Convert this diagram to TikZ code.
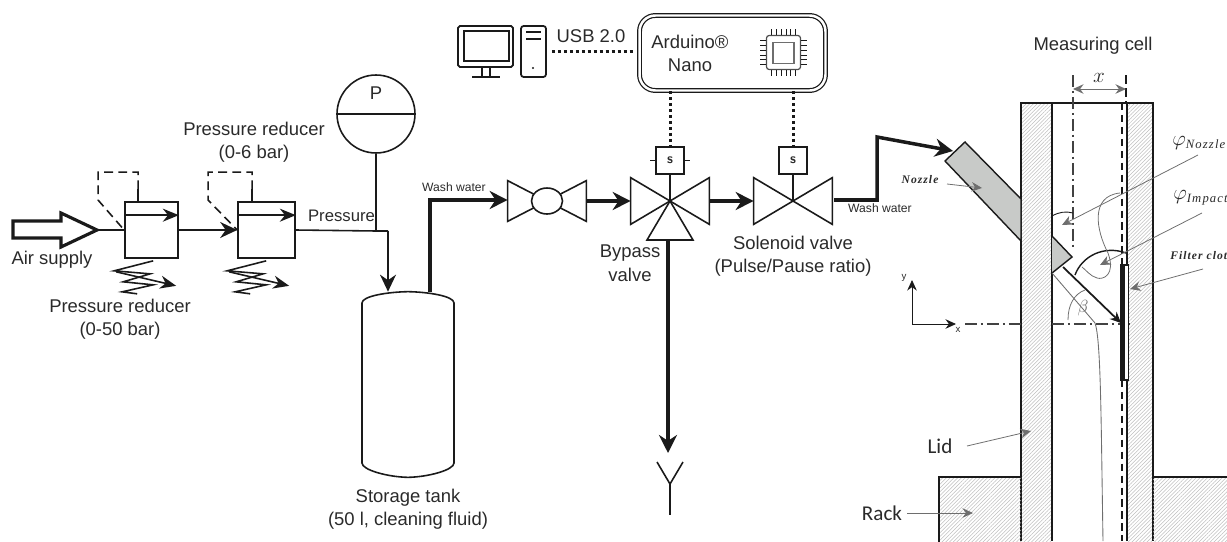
\documentclass[tikz,border=0pt]{standalone}
\usepackage{fontspec}
\setmainfont{Liberation Sans}
\newfontfamily\cellfont[LetterSpace=9]{Liberation Serif}
\newfontfamily\partfont{Carlito}
\usetikzlibrary{positioning, arrows.meta, calc, patterns.meta, shapes.geometric}
\definecolor{mInk}{HTML}{1A1A1A}
\definecolor{mText}{HTML}{2A2A2A}
\definecolor{mLead}{HTML}{6E6E6E}
\definecolor{mHatch}{HTML}{BEBEBE}
\definecolor{mNozzle}{HTML}{C8CAC8}

\begin{document}
\begin{tikzpicture}[x=0.02cm, y=-0.02cm,
  every node/.style={font=\fontsize{10.5}{12.9}\selectfont, text=mText, align=center, inner sep=0pt},
  small/.style={font=\fontsize{6.9}{8}\selectfont},
  part/.style={font=\partfont\fontsize{12}{14}\selectfont},
  cell/.style={font=\cellfont\bfseries\itshape\fontsize{6.6}{8}\selectfont},
  pipe/.style={draw=mInk, line width=0.9pt},
  water/.style={draw=mInk, line width=2pt},
  flow/.style={water, -{Stealth[length=3.6mm, width=3.6mm]}},
  air/.style={pipe, -{Stealth[length=3.4mm, width=3.2mm]}},
  signal/.style={draw=mInk, line width=1.7pt, dash pattern=on 1.7pt off 1.7pt},
  sol/.style={draw=mInk, line width=0.9pt, fill=white, minimum width=0.56cm, minimum height=0.54cm,
              font=\sffamily\bfseries\fontsize{8}{9}\selectfont},
  valve/.style={minimum width=1.56cm, minimum height=0.92cm},
  reducer/.style={draw=mInk, line width=0.95pt, minimum height=1.12cm},
  lead/.style={draw=mLead, line width=0.45pt, -{Stealth[length=2.1mm, width=1.9mm]}},
  wall/.style={draw=mInk, line width=1pt, pattern={Lines[angle=45, distance=1.5pt, line width=0.3pt]}, pattern color=mHatch},
]
  \useasboundingbox (0,0) rectangle (1227,541);
  \clip (0,0) rectangle (1227,541);

  % Air supply
  \coordinate (airtip) at (97,230);
  \draw[mInk, line width=1.8pt, miter limit=4] (13,221) -- (61,221) -- (61,213) -- (airtip) -- (61,247) -- (61,238) -- (13,238) -- cycle;
  \node (airlabel) at (52,260) {Air supply};

  % Pressure reducers
  \node[reducer, minimum width=1.06cm] (red1) at (151.5,230) {};
  \node[reducer, minimum width=1.14cm] (red2) at (266.5,230) {};
  \foreach \r/\t/\l in {red1/14/-26, red2/15/-29} {
    \draw[air, -{Stealth[length=3.2mm, width=2.6mm]}] ($(\r.north west)+(0,14)$) -- ($(\r.north east)+(0,14)$);
    \draw[pipe] ($(\r.north west)+(\t,0)$) -- ($(\r.north west)+(\t,-12)$);
    \draw[pipe, dash pattern=on 5pt off 3pt] ($(\r.north west)+(\t,-12)$) -- ($(\r.north west)+(\t,-29)$)
      -- ($(\r.north west)+(\l,-29)$) -- ($(\r.north west)+(\l,-1)$) -- (\r.west);
    \begin{scope}[shift={(\r.south west)}]
      \draw[pipe] (29,2) -- (-10,12) -- (26,15) -- (-1,23) -- (29,26) -- (-2,33) -- (13,35);
      \draw[pipe, -{Stealth[length=3.2mm, width=2.6mm]}] (-8,13) -- (52,27);
    \end{scope}
  }
  \draw[pipe] (airtip) -- (red1.west);
  \draw[air] (red1.east) -- (red2.west);
  \node (redlabel1) at (120,319.5) {Pressure reducer\\(0-50 bar)};
  \node (redlabel2) at (254,142.5) {Pressure reducer\\(0-6 bar)};

  % Pressure gauge
  \node[draw=mInk, line width=0.9pt, circle, minimum size=1.56cm] (gauge) at (376,114) {};
  \draw[pipe] (gauge.west) -- (gauge.east);
  \node (gaugeP) at (376,93) {P};
  \coordinate (jct) at (376,231);
  \coordinate (drop) at (388,231);
  \node[font=\fontsize{9.5}{11}\selectfont] (presslabel) at (341.5,216) {Pressure};

  % Storage tank
  \node[minimum width=1.84cm, minimum height=3.7cm] (tank) at (408,384.5) {};
  \draw[pipe] (362,303) .. controls (362,296) and (388,292) .. (tank.north) .. controls (428,292) and (454,296) .. (454,303)
    -- (454,463) .. controls (454,470) and (428,477) .. (tank.south) .. controls (388,477) and (362,470) .. (362,463) -- cycle;
  \node (tanklabel) at (408,509.5) {Storage tank\\(50 l, cleaning fluid)};
  \draw[pipe] (red2.east) -- (jct) -- (drop);
  \draw[pipe] (gauge.south) -- (jct);
  \draw[air] (drop) -- (drop |- tank.north);

  % Computer and controller
  \node[draw=mInk, line width=1pt, rounded corners=1pt, minimum width=1.1cm, minimum height=0.82cm] (monitor) at (485.5,46.5) {};
  \node[draw=mInk, line width=0.8pt, minimum width=0.9cm, minimum height=0.6cm] (screen) at (486.5,46) {};
  \draw[mInk, line width=0.9pt] (482,67) -- (482,77) (490,67) -- (490,77) (472,77) -- (500,77);
  \node[draw=mInk, line width=1pt, rounded corners=1.5pt, minimum width=0.5cm, minimum height=1.02cm] (tower) at (533.5,51.5) {};
  \draw[mInk, line width=0.9pt] (526,32) -- (541,32) (526,39) -- (541,39);
  \fill[mInk] (533,68) circle (0.7pt);
  \node[draw=mInk, line width=0.7pt, double, double distance=1.4pt, rounded corners=9pt, minimum width=3.72cm, minimum height=1.5cm] (arduino) at (732.5,53) {};
  \node (ardlabel) at (690,53.5) {Arduino\textregistered\\[0.6pt]Nano};
  \node (usblabel) at (591,36) {USB 2.0};
  \draw[signal, shorten <=0.1cm, shorten >=0.1cm] (tower.east) -- (tower.east -| arduino.west);

  % Chip icon
  \node[draw=mLead!70!black, line width=0.7pt, rounded corners=1.5pt, minimum size=0.68cm] (chip) at (783.5,52.5) {};
  \node[draw=mLead, line width=0.8pt, minimum size=0.42cm] (core) at (783.5,53) {};
  \foreach \p in {-12,-7.2,-2.4,2.4,7.2,12} {
    \draw[mInk, line width=0.35pt] ($(chip.north)+(\p,0)$) -- ++(0,-6);
    \draw[mInk, line width=0.35pt] ($(chip.south)+(\p,0)$) -- ++(0,6);
    \draw[mInk, line width=0.35pt] ($(chip.west)+(0,\p)$) -- ++(-6,0);
    \draw[mInk, line width=0.35pt] ($(chip.east)+(0,\p)$) -- ++(6,0);
  }

  % Valves
  \node[valve, minimum height=0.8cm] (bowl) at (547,201) {};
  \node[valve] (bypass) at (670,201) {};
  \node[valve] (solvalve) at (793,201) {};
  \foreach \v in {bowl,bypass,solvalve} {
    \draw[pipe] (\v.north west) -- (\v.south east) -- (\v.north east) -- (\v.south west) -- cycle;
  }
  \node[draw=mInk, line width=0.9pt, fill=white, ellipse, minimum width=0.62cm, minimum height=0.52cm] (ball) at (bowl) {};
  \draw[pipe] (bypass.center) -- (647,240) -- (693,240) -- cycle;
  \node[sol] (sol1) at (670,160.5) {s};
  \node[sol] (sol2) at (793,160.5) {s};
  \draw[pipe] (sol1.south) -- (bypass.center);
  \draw[pipe] (sol2.south) -- (solvalve.center);
  \draw[pipe] (sol1.west) -- ++(-5,0);
  \draw[pipe] (sol1.east) -- ++(5,0);
  \draw[signal] (arduino.south -| sol1.north) -- (sol1.north);
  \draw[signal] (arduino.south -| sol2.north) -- (sol2.north);
  \node (bypasslabel) at (630,263) {Bypass\\[1pt]valve};
  \node (sollabel) at (793,256) {Solenoid valve\\(Pulse/Pause ratio)};

  % Water lines
  \coordinate (bendA) at (430,200);
  \coordinate (bendB) at (877,200);
  \coordinate (bendC) at (877,137);
  \coordinate (nozzleIn) at (953,151);
  \draw[flow] (430,292) -- (bendA) -- (bowl.west |- bendA);
  \draw[flow] (bowl.east) -- (bypass.west);
  \draw[flow] (bypass.east) -- (solvalve.west);
  \draw[flow] (834,200) -- (bendB) -- (bendC) -- (nozzleIn);
  \node[small] (washlabel1) at (454,187) {Wash water};
  \node[small] (washlabel2) at (880,208.5) {Wash water};

  % Drain
  \coordinate (drainhead) at (668,453);
  \coordinate (funnel) at (670,484);
  \draw[flow] (668,240) -- (drainhead);
  \draw[pipe] (657,462) -- (funnel) -- (683,462);
  \draw[pipe] (funnel) -- (670,515);

  % Measuring cell
  \node (celllabel) at (1093,46) {Measuring cell};
  \draw[wall] (1021,541) -- (1021,103) -- (1052,103) -- (1052,541);
  \draw[wall] (1127,541) -- (1127,103) -- (1153,103) -- (1153,541);
  \draw[mInk, line width=1.1pt] (1052,103) -- (1127,103);
  \draw[wall] (1021,477) -- (939,477) -- (939,545) -- (1021,545);
  \draw[wall] (1153,477) -- (1230,477) -- (1230,545) -- (1153,545);

  % Nozzle
  \draw[mInk, line width=0.8pt, fill=mNozzle] (965,142) -- (945,161) -- (1021,241) -- (1021,199) -- cycle;
  \draw[mInk, line width=0.8pt, fill=mNozzle] (1052,236) -- (1072,257) -- (1052,273);
  \draw[mInk, line width=1pt, -{Stealth[length=2.2mm, width=2mm]}] (1063,267) -- (1121,323);
  \draw[mLead, line width=0.5pt] (1052,273) -- (1095,323) .. controls (1101,340) and (1101,420) .. (1103,541);

  % Centre lines
  \draw[mLead!60!black, line width=0.6pt, dash pattern=on 7pt off 2pt on 1.5pt off 2pt] (1073,75) -- (1073,247);
  \draw[mInk, line width=0.6pt, dash pattern=on 5pt off 2.5pt] (1126,75) -- (1126,103);
  \draw[mLead!60!black, line width=0.6pt, dash pattern=on 7pt off 2pt on 1.5pt off 2pt] (965,324) -- (1021,324) (1052,324) -- (1133,324);
  \draw[mInk, line width=1.2pt, dash pattern=on 4.2pt off 2.6pt] (1122,103) -- (1122,265) (1122,380) -- (1122,541);
  \draw[mLead, line width=0.55pt, {Stealth[length=2.1mm, width=1.9mm]}-{Stealth[length=2.1mm, width=1.9mm]}] (1073,89) -- (1126,89);
  \node[font=\fontsize{13}{15}\selectfont] (xlabel) at (1099,78) {$x$};

  % Filter cloth
  \node[draw=mInk, line width=0.7pt, fill=white, minimum width=0.15cm, minimum height=2.3cm] (cloth) at (1124.5,322.5) {};
  \fill[mInk] (cloth.north west) rectangle ($(cloth.south west)+(5,0)$);

  % Angles
  \draw[mInk, line width=0.5pt] (1052,216) .. controls (1059,212) and (1066,211) .. (1073,213);
  \draw[mInk, line width=0.8pt] (1075,275) .. controls (1082,256) and (1104,245) .. (1126,253);
  \draw[mLead, line width=0.45pt] (1085,290) .. controls (1074,294) and (1068,305) .. (1068,320);
  \node[font=\fontsize{10}{12}\selectfont, text=mLead] (betalabel) at (1083,308) {$\beta$};

  % Axes
  \coordinate (origin) at (912,324);
  \draw[pipe, line width=0.5pt, -{Stealth[length=2.1mm, width=1.9mm]}] (origin) -- (912,280);
  \draw[pipe, line width=0.5pt, -{Stealth[length=2.1mm, width=1.9mm]}] (origin) -- (956,324);
  \node[font=\fontsize{5.5}{7}\selectfont] (ylabel) at (904,278) {y};
  \node[font=\fontsize{5.5}{7}\selectfont] (xaxlabel) at (958,330) {x};

  % Leaders
  \node[cell] (nozlabel) at (920,180) {Nozzle};
  \node[font=\fontsize{11.5}{13}\selectfont, anchor=west] (phin) at (1172,143) {$\varphi$\raisebox{-1.5pt}{\cellfont\itshape\fontsize{7.2}{8}\selectfont Nozzle}};
  \node[font=\fontsize{11.5}{13}\selectfont, anchor=west] (phii) at (1173,198) {$\varphi$\raisebox{-1.5pt}{\cellfont\itshape\fontsize{7.2}{8}\selectfont Impact}};
  \node[cell, anchor=west] (clothlabel) at (1170,256) {Filter clot};
  \node[part] (lidlabel) at (940,446) {Lid};
  \node[part] (racklabel) at (882,513) {Rack};
  \draw[lead] (947,184) -- (982,188);
  \draw[lead] (1198,155) -- (1062,225);
  \draw[lead] (1202,213) -- (1100,265);
  \draw[lead] (1203,269) -- (1130,289);
  \draw[lead] (967,446) -- (1031,431);
  \draw[lead] (907,513) -- (973,513);
  \draw[mLead, line width=0.45pt] (1120,193) .. controls (1090,196) and (1096,230) .. (1108,253) .. controls (1116,275) and (1103,280) .. (1097,278) .. controls (1090,276) and (1086,270) .. (1082,267);
\end{tikzpicture}
\end{document}
